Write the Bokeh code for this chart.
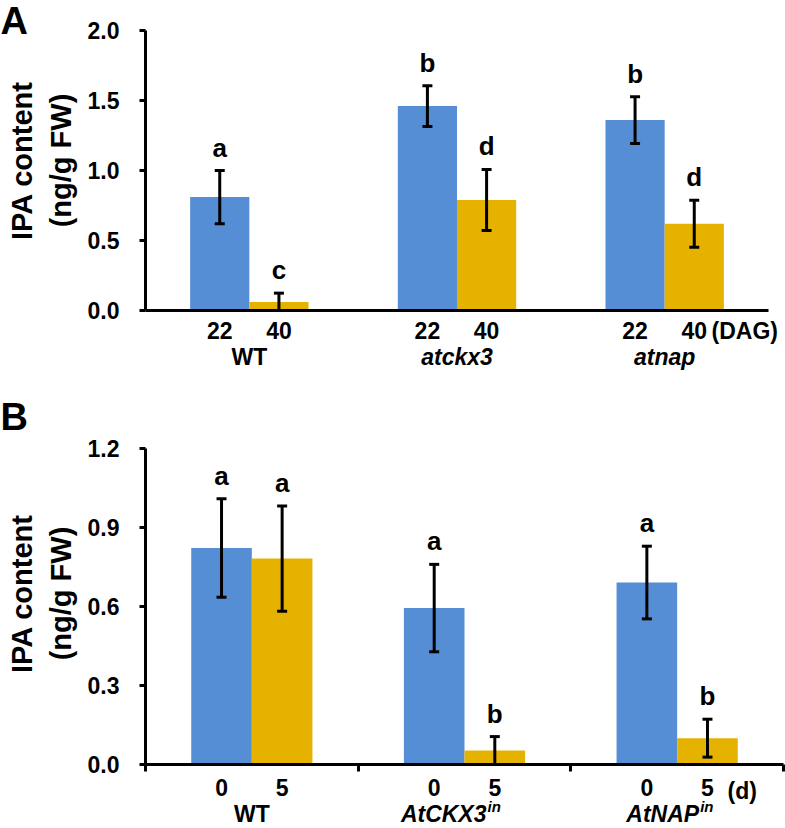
import math
from bokeh.plotting import figure
from bokeh.models import (ColumnDataSource, FixedTicker, LinearAxis, Range1d, Whisker,
                          TeeHead, NumeralTickFormatter)
from bokeh.core.properties import value, field
from bokeh.layouts import column
from bokeh.embed import file_html
from bokeh.resources import INLINE

# ---------------- data: panel A ----------------
groups_A = ["WT", "atckx3", "atnap"]
italic_A = [False, True, True]
sup_A = ["", "", ""]
days_A = ["22", "40"]
unit_A = "(DAG)"
ipa_A_22 = [0.81, 1.46, 1.36]
ipa_A_40 = [0.06, 0.79, 0.62]
err_A_22 = [0.19, 0.145, 0.167]
err_A_40 = [0.064, 0.218, 0.168]
sig_A_22 = ["a", "b", "b"]
sig_A_40 = ["c", "d", "d"]
yticks_A = [0.0, 0.5, 1.0, 1.5, 2.0]

# ---------------- data: panel B ----------------
groups_B = ["WT", "AtCKX3", "AtNAP"]
italic_B = [False, True, True]
sup_B = ["", "in", "in"]
days_B = ["0", "5"]
unit_B = "(d)"
ipa_B_0 = [0.822, 0.594, 0.691]
ipa_B_5 = [0.782, 0.053, 0.100]
err_B_0 = [0.187, 0.166, 0.138]
err_B_5 = [0.200, 0.053, 0.072]
sig_B_0 = ["a", "a", "a"]
sig_B_5 = ["a", "b", "b"]
yticks_B = [0.0, 0.3, 0.6, 0.9, 1.2]

y_title = "IPA content\n(ng/g FW)"

# ---------------- style ----------------
FONT = "Liberation Sans"
BLUE = "#558ED5"
GOLD = "#E5B200"
BAR_W = 0.285
W = 785


def panel(letter, groups, italic, sups, days, unit, v0, v1, e0, e1, s0, s1, yticks,
          height, ax_left, ax_right, ax_bottom, ax_top, group_ticks, sub_standoff,
          sub_center, group_center, unit_left, letter_mid, title_mid):
    n = len(groups)
    ymax = yticks[-1]
    # pixel layout -> data ranges (frame fills the whole canvas)
    ppx = (ax_right - ax_left) / n
    ppy = (ax_bottom - ax_top) / ymax
    x_start, x_end = -ax_left / ppx, (W - ax_left) / ppx
    y_start, y_end = -(height - ax_bottom) / ppy, ax_bottom / ppy

    def dx(px):  # canvas px -> data x
        return (px - ax_left) / ppx

    def dy(py):  # canvas px -> data y
        return (ax_bottom - py) / ppy

    xs, tops, errs, sigs, cols, subl = [], [], [], [], [], []
    for i in range(n):
        for j, (vals, es, ss, col) in enumerate([(v0, e0, s0, BLUE), (v1, e1, s1, GOLD)]):
            xs.append(i + 0.5 + (j - 0.5) * BAR_W)
            tops.append(vals[i])
            errs.append(es[i])
            sigs.append(ss[i])
            cols.append(col)
            subl.append(days[j])
    upper = [t + e for t, e in zip(tops, errs)]
    src = ColumnDataSource(dict(
        x=xs, top=tops, upper=upper,
        lower=[max(t - e, 0.0) for t, e in zip(tops, errs)],
        sig=sigs, sig_y=[u + 23 / ppy for u in upper], color=cols))

    p = figure(width=W, height=height, x_range=Range1d(x_start, x_end),
               y_range=Range1d(y_start, y_end), output_backend="svg",
               toolbar_location=None, x_axis_location=None, y_axis_location=None,
               min_border=0)
    p.grid.visible = False
    p.outline_line_color = None
    p.background_fill_color = "white"
    p.border_fill_color = "white"

    p.vbar(x="x", top="top", width=BAR_W, color="color", line_color=None, source=src)

    head = dict(size=10, line_width=3, line_color="black")
    p.add_layout(Whisker(base="x", upper="upper", lower="lower", source=src,
                         line_width=3, line_color="black", level="overlay",
                         upper_head=TeeHead(**head), lower_head=TeeHead(**head)))

    p.text(x="x", y="sig_y", text="sig", source=src, text_align="center",
           text_baseline="middle", text_font=value(FONT), text_font_size="26px",
           text_font_style="bold", text_color="black")

    # y axis
    ya = LinearAxis(
        ticker=FixedTicker(ticks=yticks), formatter=NumeralTickFormatter(format="0.0"),
        fixed_location=0, bounds=(0, ymax),
        axis_line_width=3, axis_line_color="black",
        major_tick_line_width=3, major_tick_out=6, major_tick_in=0,
        minor_tick_line_color=None,
        major_label_text_font=FONT, major_label_text_font_size="23px",
        major_label_text_font_style="bold", major_label_text_color="black",
        major_label_standoff=20)
    p.add_layout(ya, "left")

    # y title (two lines, rotated)
    p.text(x=[dx(41)], y=[dy(title_mid)], text=[y_title], angle=math.pi / 2,
           text_align="center", text_baseline="middle", text_line_height=1.2,
           text_font=value(FONT), text_font_size="29px", text_font_style="bold",
           text_color="black")

    # x axis: sub-category labels at bar centres, group boundary ticks
    xa = LinearAxis(
        ticker=FixedTicker(ticks=xs, minor_ticks=list(range(n + 1)) if group_ticks else []),
        major_label_overrides={c: l for c, l in zip(xs, subl)},
        fixed_location=0, bounds=(0, n),
        axis_line_width=3, axis_line_color="black",
        major_tick_line_color=None, major_tick_out=0, major_tick_in=0,
        minor_tick_line_color="black" if group_ticks else None,
        minor_tick_line_width=3, minor_tick_out=7, minor_tick_in=0,
        major_label_text_font=FONT, major_label_text_font_size="23px",
        major_label_text_font_style="bold", major_label_text_color="black",
        major_label_standoff=sub_standoff)
    p.add_layout(xa, "below")

    # group labels (below the sub-category labels)
    gx = [i + 0.5 for i in range(n)]
    gy = dy(ax_bottom + group_center)
    gsrc = ColumnDataSource(dict(
        x=gx, y=[gy] * n, text=groups,
        style=["bold italic" if it else "bold" for it in italic],
        align=["right" if s else "center" for s in sups],
        xo=[22 if s else 0 for s in sups]))
    p.text(x="x", y="y", text="text", source=gsrc, x_offset="xo",
           text_align=field("align"), text_baseline="middle", text_font=value(FONT),
           text_font_size="23px", text_font_style=field("style"), text_color="black")
    sidx = [i for i, s in enumerate(sups) if s]
    if sidx:
        ssrc = ColumnDataSource(dict(x=[gx[i] for i in sidx],
                                     y=[dy(ax_bottom + group_center - 7)] * len(sidx),
                                     text=[sups[i] for i in sidx]))
        p.text(x="x", y="y", text="text", source=ssrc, x_offset=23, text_align="left",
               text_baseline="middle", text_font=value(FONT), text_font_size="15px",
               text_font_style="bold italic", text_color="black")

    # unit label after the last sub-category label
    p.text(x=[dx(unit_left)], y=[dy(ax_bottom + sub_center)], text=[unit],
           text_align="left", text_baseline="middle", text_font=value(FONT),
           text_font_size="23px", text_font_style="bold", text_color="black")

    # panel letter
    p.text(x=[dx(0)], y=[dy(letter_mid)], text=[letter], text_align="left",
           text_baseline="middle", text_font=value(FONT), text_font_size="38px",
           text_font_style="bold", text_color="black")
    return p


pA = panel("A", groups_A, italic_A, sup_A, days_A, unit_A, ipa_A_22, ipa_A_40,
           err_A_22, err_A_40, sig_A_22, sig_A_40, yticks_A,
           height=380, ax_left=145, ax_right=768, ax_bottom=310, ax_top=30,
           group_ticks=False, sub_standoff=11, sub_center=20, group_center=46,
           unit_left=711, letter_mid=20, title_mid=160)
pB = panel("B", groups_B, italic_B, sup_B, days_B, unit_B, ipa_B_0, ipa_B_5,
           err_B_0, err_B_5, sig_B_0, sig_B_5, yticks_B,
           height=448, ax_left=145, ax_right=783, ax_bottom=384, ax_top=68,
           group_ticks=True, sub_standoff=7, sub_center=26, group_center=49,
           unit_left=727, letter_mid=36, title_mid=213)

layout = column(pA, pB, spacing=0)
open("out.html", "w").write(file_html(layout, INLINE))
